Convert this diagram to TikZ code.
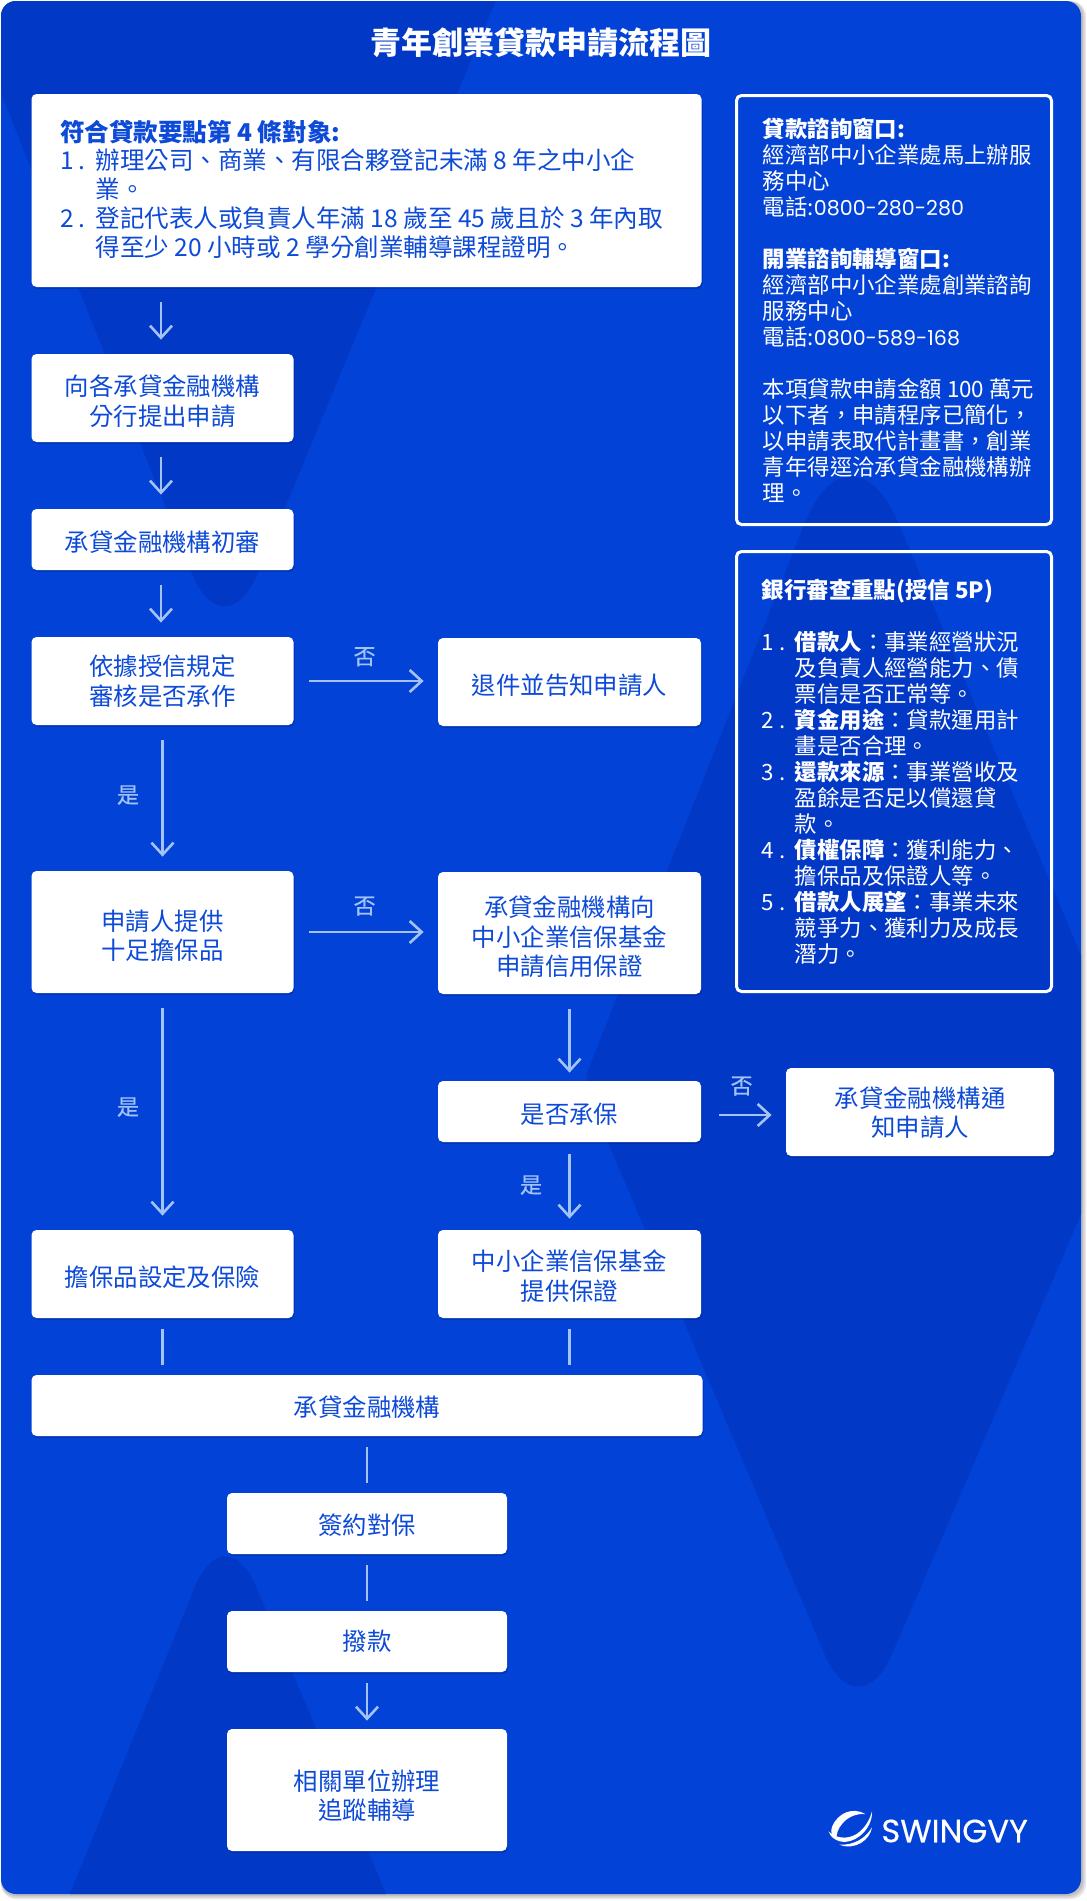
\documentclass[tikz,border=0pt]{standalone}
\usepackage{fontspec}
\setmainfont{Noto Sans CJK TC}
\newfontfamily\labelfont[FakeBold=0.6]{Noto Sans CJK TC}
\newfontfamily\logofont[FakeBold=0.4]{Poppins}
\newfontfamily\phonefont{Poppins}
\usetikzlibrary{positioning, arrows.meta, shadows}

\definecolor{cardblue}{HTML}{0242D6}
\definecolor{darkblue}{HTML}{0238C6}
\definecolor{textblue}{HTML}{0D4AD8}
\definecolor{lineblue}{HTML}{A3C3F6}
\definecolor{edgeblue}{HTML}{01288F}

\newcommand{\itemno}[2]{\makebox[#1][l]{#2\hspace{2.4pt}.}}
\newcommand{\phoneno}[1]{{\phonefont\fontsize{10.3}{13}\selectfont #1}}
\newcommand{\flowtext}[2]{\raisebox{-#1}[\height][\depth]{\begin{tabular}{@{}c@{}}#2\end{tabular}}}

\tikzset{
    flowbox/.style={fill=white, rounded corners=2.5pt, inner sep=0pt, text=textblue,
        font=\fontsize{12.2}{14.5}\selectfont,
        drop shadow={shadow xshift=0.5pt, shadow yshift=-0.9pt, fill=edgeblue, opacity=0.45}},
    infobox/.style={draw=white, line width=1.5pt, rounded corners=2.5pt, inner sep=0pt, minimum width=157.5pt},
    infotext/.style={inner sep=0pt, align=left, text=white, font=\fontsize{11.2}{13}\selectfont},
    flowlabel/.style={inner sep=0pt, text=lineblue, font=\fontsize{11}{12}\labelfont},
    flowline/.style={draw=lineblue, line width=1.3pt, shorten <=5.5pt, shorten >=5pt},
    flowarrow/.style={flowline, -{Straight Barb[length=6pt, width=11pt]}, shorten <=7.5pt, shorten >=7pt},
}

\begin{document}
\begin{tikzpicture}[x=0.5pt, y=-0.5pt]
    \useasboundingbox (0,0) rectangle (1087,1901);
    \fill[white] (0,0) rectangle (1087,1901);

    \foreach \d in {5,3.5,2}
        \fill[black, opacity=0.09, rounded corners=7.5pt] (1,1) rectangle (1081+\d,1894+\d);
    \begin{scope}
        \clip[rounded corners=7.5pt] (1,1) rectangle (1081,1894);
        \fill[cardblue] (0,0) rectangle (1087,1901);
        \fill[darkblue] (-36,0) -- (496,0) [rounded corners=44pt] -- (224,654) [sharp corners] -- cycle;
        \fill[darkblue] (1100,1000) -- (1100,1170) [rounded corners=43pt] -- (858,1733) [rounded corners=8pt] -- (583,1083)
            [rounded corners=62pt] -- (850,409) [sharp corners] -- cycle;
        \fill[darkblue] (67,1901) [rounded corners=40pt] -- (225,1513) [sharp corners] -- (389,1901) -- cycle;
    \end{scope}

    \node[inner sep=0pt, text=white, font=\fontsize{15.5}{20}\selectfont\bfseries] (title) at (541,43) {青年創業貸款申請流程圖};

    \node[flowbox, minimum width=335pt, minimum height=96.5pt] (main) at (366.5,190.5) {};
    \node[infotext, text=textblue, font=\fontsize{12.27}{14.35}\selectfont, right=14.25pt of main.west, yshift=0.7pt] (maintext) {%
        \textbf{符合貸款要點第 4 條對象:}\\
        \itemno{17.75pt}{1}辦理公司、商業、有限合夥登記未滿 8 年之中小企\\
        \hspace*{17.75pt}業。\\
        \itemno{17.75pt}{2}登記代表人或負責人年滿 18 歲至 45 歲且於 3 年內取\\
        \hspace*{17.75pt}得至少 20 小時或 2 學分創業輔導課程證明。};

    \node[flowbox, minimum width=131pt, minimum height=44pt] (apply) at (162.5,398) {\flowtext{3.2pt}{向各承貸金融機構\\分行提出申請}};
    \node[flowbox, minimum width=131pt, minimum height=30.5pt] (review) at (162.5,539.5) {\flowtext{2.8pt}{承貸金融機構初審}};
    \node[flowbox, minimum width=131pt, minimum height=44pt] (decide) at (162.5,681) {\flowtext{1.7pt}{依據授信規定\\審核是否承作}};
    \node[flowbox, minimum width=131.5pt, minimum height=44pt] (reject) at (569.5,682) {\flowtext{3.2pt}{退件並告知申請人}};
    \node[flowbox, minimum width=131pt, minimum height=61pt] (offer) at (162.5,932) {\flowtext{3.4pt}{申請人提供\\十足擔保品}};
    \node[flowbox, minimum width=131.5pt, minimum height=61pt] (fund) at (569.5,933) {\flowtext{3.5pt}{承貸金融機構向\\中小企業信保基金\\申請信用保證}};
    \node[flowbox, minimum width=131.5pt, minimum height=30.5pt] (insure) at (569.5,1111.5) {\flowtext{2.9pt}{是否承保}};
    \node[flowbox, minimum width=134pt, minimum height=44pt] (notify) at (920,1112) {\flowtext{2pt}{承貸金融機構通\\知申請人}};
    \node[flowbox, minimum width=131pt, minimum height=44pt] (collateral) at (162.5,1274) {\flowtext{3.2pt}{擔保品設定及保險}};
    \node[flowbox, minimum width=131.5pt, minimum height=44pt] (guarantee) at (569.5,1274) {\flowtext{2.7pt}{中小企業信保基金\\提供保證}};
    \node[flowbox, minimum width=335.5pt, minimum height=30.5pt] (lender) at (367,1405.5) {\flowtext{2.6pt}{承貸金融機構}};
    \node[flowbox, minimum width=140pt, minimum height=30.5pt] (sign) at (367,1523.5) {\flowtext{2.4pt}{簽約對保}};
    \node[flowbox, minimum width=140pt, minimum height=30.5pt] (disburse) at (367,1641.5) {\flowtext{1.7pt}{撥款}};
    \node[flowbox, minimum width=140pt, minimum height=61pt] (followup) at (367,1790) {\flowtext{4.4pt}{相關單位辦理\\追蹤輔導}};

    \node[infobox, minimum height=214.5pt] (contact) at (894,310) {};
    \node[infotext, right=13.75pt of contact.west] (contacttext) {%
        \textbf{貸款諮詢窗口:}\\
        經濟部中小企業處馬上辦服\\
        務中心\\
        電話:\phoneno{0800-280-280}\\
        \mbox{}\\
        \textbf{開業諮詢輔導窗口:}\\
        經濟部中小企業處創業諮詢\\
        服務中心\\
        電話:\phoneno{0800-589-168}\\
        \mbox{}\\
        本項貸款申請金額 100 萬元\\
        以下者，申請程序已簡化，\\
        以申請表取代計畫書，創業\\
        青年得逕洽承貸金融機構辦\\
        理。};

    \node[infobox, minimum height=220pt] (bank) at (894,771.5) {};
    \node[infotext, right=13.25pt of bank.west] (banktext) {%
        \textbf{銀行審查重點(授信 5P)}\\
        \mbox{}\\
        \itemno{16.5pt}{1}\textbf{借款人}：事業經營狀況\\
        \hspace*{16.5pt}及負責人經營能力、債\\
        \hspace*{16.5pt}票信是否正常等。\\
        \itemno{16.5pt}{2}\textbf{資金用途}：貸款運用計\\
        \hspace*{16.5pt}畫是否合理。\\
        \itemno{16.5pt}{3}\textbf{還款來源}：事業營收及\\
        \hspace*{16.5pt}盈餘是否足以償還貸\\
        \hspace*{16.5pt}款。\\
        \itemno{16.5pt}{4}\textbf{債權保障}：獲利能力、\\
        \hspace*{16.5pt}擔保品及保證人等。\\
        \itemno{16.5pt}{5}\textbf{借款人展望}：事業未來\\
        \hspace*{16.5pt}競爭力、獲利力及成長\\
        \hspace*{16.5pt}潛力。};

    \draw[flowarrow] ([xshift=-0.75pt]apply.north |- main.south) -- ([xshift=-0.75pt]apply.north);
    \draw[flowarrow] ([xshift=-0.75pt]apply.south) -- ([xshift=-0.75pt]review.north);
    \draw[flowarrow] ([xshift=-0.75pt]review.south) -- ([xshift=-0.75pt]decide.north);
    \draw[flowarrow] (decide) -- (offer);
    \draw[flowarrow] (offer) -- (collateral);
    \draw[flowarrow] (decide.east) -- (decide.east -| reject.west);
    \draw[flowarrow] (offer.east) -- (offer.east -| fund.west);
    \draw[flowarrow, shorten >=4pt] (fund) -- (insure);
    \draw[flowarrow, shorten <=6pt, shorten >=5.5pt] (insure) -- (guarantee);
    \draw[flowarrow, shorten <=9pt] ([yshift=-1.75pt]insure.east) -- ([yshift=-1.75pt]insure.east -| notify.west);
    \draw[flowline] (collateral.south) -- (collateral.south |- lender.north);
    \draw[flowline] (guarantee.south) -- (guarantee.south |- lender.north);
    \draw[flowline] (lender) -- (sign);
    \draw[flowline] (sign) -- (disburse);
    \draw[flowarrow, shorten <=5.5pt, shorten >=4pt] (disburse) -- (followup);

    \node[flowlabel] (noreject) at (364.6,656.7) {否};
    \node[flowlabel] (nofund) at (364.6,906) {否};
    \node[flowlabel] (nonotify) at (741.6,1086) {否};
    \node[flowlabel] (yesoffer) at (128,795) {是};
    \node[flowlabel] (yescollateral) at (128,1107) {是};
    \node[flowlabel] (yesguarantee) at (531,1185) {是};

    \node[inner sep=0pt, anchor=west, text=white, font=\fontsize{16.1}{20}\logofont] (logotext) at (881,1831) {SWINGVY};
    \begin{scope}[shift={(820,1804)}, x=0.1667pt, y=-0.1667pt]
        \fill[white] (136,30) .. controls (98,8) and (54,26) .. (36,68) .. controls (30,86) and (36,100) .. (50,108)
            .. controls (44,78) and (78,26) .. (136,30) -- cycle;
        \fill[white] (156,22) .. controls (158,75) and (105,122) .. (60,112) .. controls (45,108) and (30,98) .. (26,82)
            .. controls (45,102) and (80,108) .. (110,90) .. controls (135,72) and (148,50) .. (156,22) -- cycle;
        \fill[white] (156,70) .. controls (150,108) and (105,140) .. (58,122) .. controls (100,124) and (135,105) .. (156,70) -- cycle;
    \end{scope}
\end{tikzpicture}
\end{document}
